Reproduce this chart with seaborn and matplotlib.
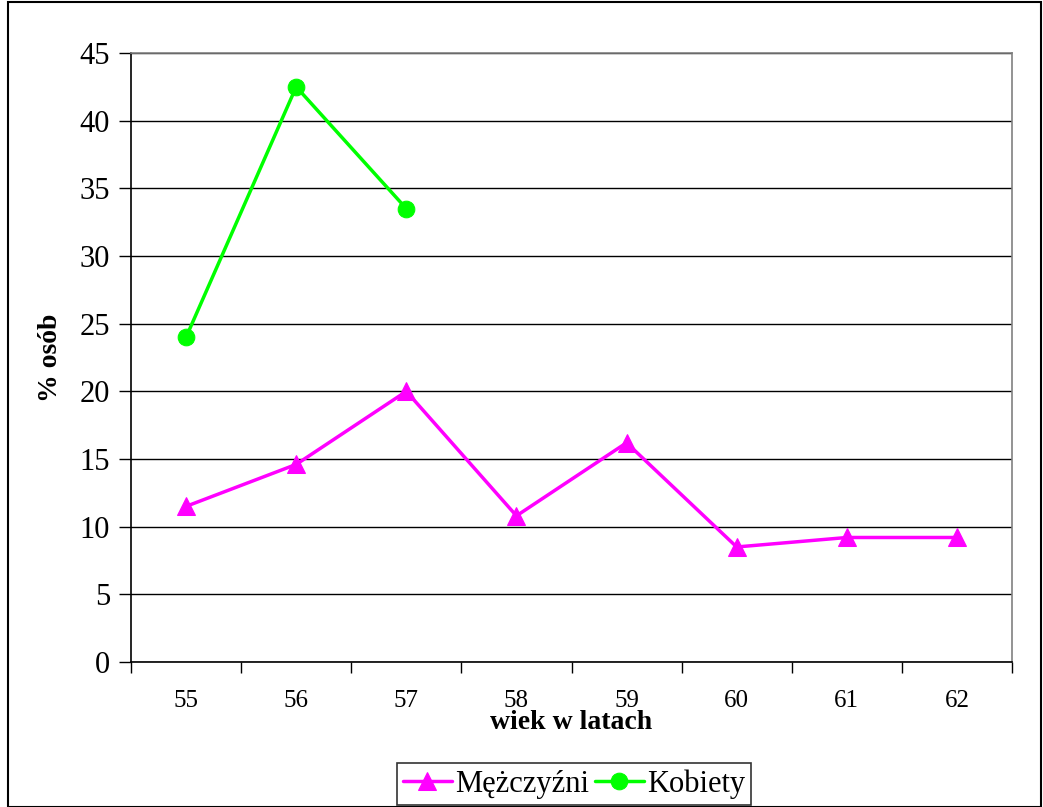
import pandas as pd
import seaborn as sns
import matplotlib.pyplot as plt
import matplotlib.ticker as ticker
from matplotlib.patches import Rectangle

ages = ['55', '56', '57', '58', '59', '60', '61', '62']
men = [11.5, 14.6, 20.0, 10.8, 16.2, 8.5, 9.2, 9.2]
women = [24.0, 42.5, 33.5]

men_df = pd.DataFrame({'pos': range(len(men)), 'val': men})
women_df = pd.DataFrame({'pos': range(len(women)), 'val': women})

sns.set_theme(style='white')
plt.rcParams['font.family'] = ['Liberation Serif', 'DejaVu Serif']
plt.rcParams['text.color'] = 'black'
plt.rcParams['axes.labelcolor'] = 'black'
plt.rcParams['xtick.color'] = 'black'
plt.rcParams['ytick.color'] = 'black'

fig = plt.figure(figsize=(10.43, 8.07), dpi=100)
ax = fig.add_axes([131 / 1043, 1 - 662 / 807, (1012 - 131) / 1043, (662 - 53) / 807])

sns.lineplot(data=men_df, x='pos', y='val', color='#FF00FF', marker='^', markersize=13,
             markeredgecolor='#FF00FF', linewidth=2.5, label='Mężczyźni', ax=ax)
sns.lineplot(data=women_df, x='pos', y='val', color='#00FF00', marker='o', markersize=12,
             markeredgecolor='#00FF00', linewidth=2.5, label='Kobiety', ax=ax)

ax.set_xlim(-0.5, len(ages) - 0.5)
ax.set_ylim(0, 45)
ax.yaxis.set_major_locator(ticker.MultipleLocator(5))
ax.grid(axis='y', color='black', linewidth=1)
ax.set_axisbelow(True)

# category boundaries as ticks, labels in the middle
ax.set_xticks([i - 0.5 for i in range(len(ages) + 1)])
ax.set_xticklabels([])
ax.set_xticks(range(len(ages)), minor=True)
ax.set_xticklabels(ages, minor=True, fontsize=18)
ax.tick_params(axis='x', which='major', direction='out', length=8, width=1, bottom=True)
ax.tick_params(axis='x', which='minor', length=0, pad=20)
ax.tick_params(axis='y', direction='out', length=9, width=1, left=True, labelsize=22, pad=6)

for side in ['top', 'right']:
    ax.spines[side].set_color('#808080')
for side in ['left', 'bottom']:
    ax.spines[side].set_color('black')
for sp in ax.spines.values():
    sp.set_linewidth(1.2)

ax.set_xlabel('wiek w latach', fontsize=20, fontweight='bold', labelpad=-1)
ax.set_ylabel('% osób', fontsize=20, fontweight='bold', labelpad=12)

leg = ax.legend(loc='center', bbox_to_anchor=(574 / 1043, 1 - 784 / 807), bbox_transform=fig.transFigure,
                ncol=2, frameon=True, fancybox=False, fontsize=22, handlelength=1.6,
                columnspacing=0.2, handletextpad=0.1, borderpad=0.2, borderaxespad=0,
                edgecolor='black')
leg.get_frame().set_linewidth(1.2)

# outer chart border
fig.patches.append(Rectangle((8 / 1043, 0), 1 - 10 / 1043, 1 - 2 / 807, transform=fig.transFigure,
                             fill=False, edgecolor='black', linewidth=1.5))

fig.savefig('out.png', dpi=100)
